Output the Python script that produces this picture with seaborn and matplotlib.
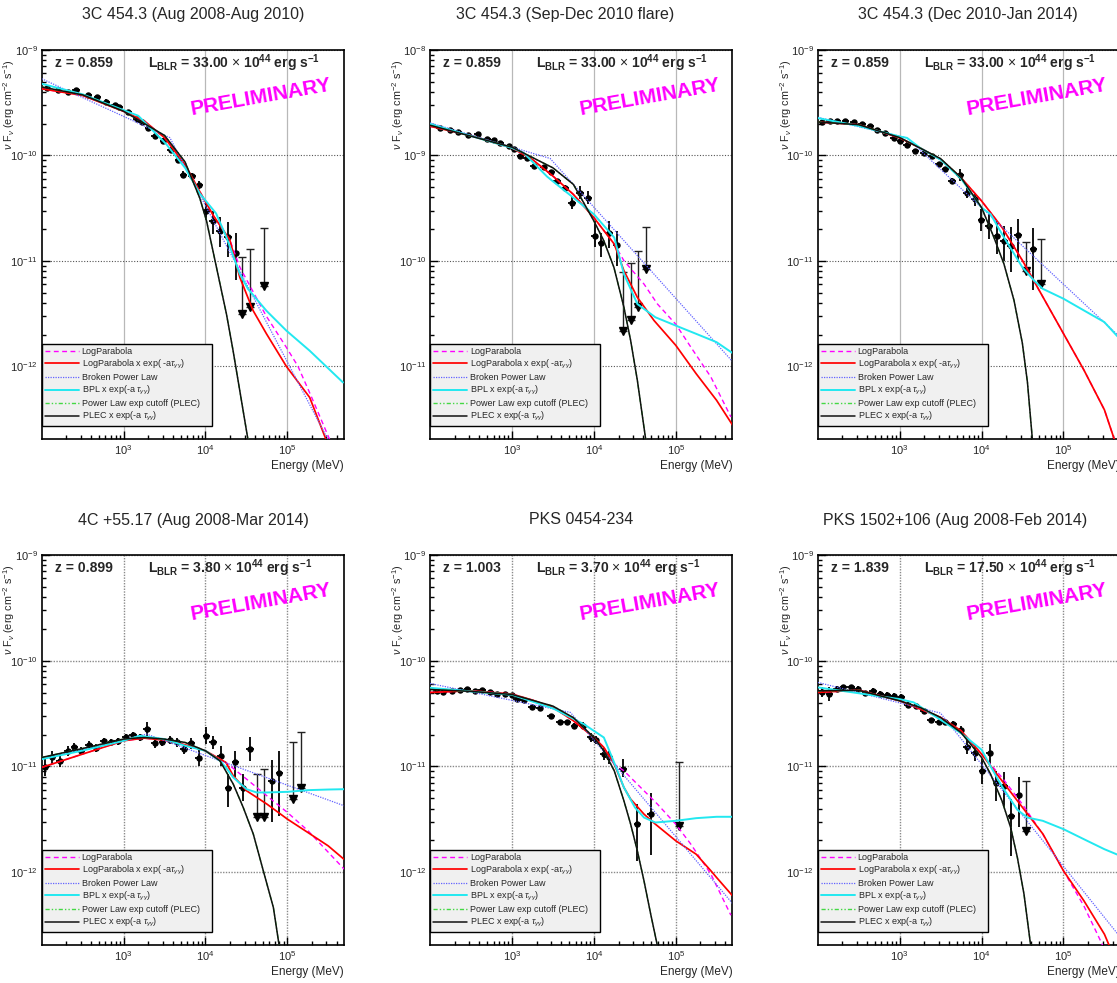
import numpy as np
import pandas as pd
import seaborn as sns
import matplotlib.pyplot as plt
from matplotlib.ticker import LogLocator, LogFormatterSciNotation, NullFormatter

sns.set_theme(style="white")
plt.rcParams["font.family"] = ["Liberation Sans", "DejaVu Sans"]
plt.rcParams["mathtext.fontset"] = "custom"
plt.rcParams["mathtext.rm"] = "Liberation Sans"
plt.rcParams["mathtext.it"] = "Liberation Sans:italic"
plt.rcParams["mathtext.bf"] = "Liberation Sans:bold"

# ---- panel meta ----
titles = ["3C 454.3 (Aug 2008-Aug 2010)", "3C 454.3 (Sep-Dec 2010 flare)", "3C 454.3 (Dec 2010-Jan 2014)",
          "4C +55.17 (Aug 2008-Mar 2014)", "PKS 0454-234", "PKS 1502+106 (Aug 2008-Feb 2014)"]
redshifts = ["0.859", "0.859", "0.859", "0.899", "1.003", "1.839"]
l_blr = ["33.00", "33.00", "33.00", "3.80", "3.70", "17.50"]
y_min = [2.05e-13, 2.05e-12, 2.05e-13, 2.05e-13, 2.05e-13, 2.05e-13]
y_max = [1e-9, 1e-8, 1e-9, 1e-9, 1e-9, 1e-9]
e_min, e_max = 100, 4.9e5
e_ticks = [1e3, 1e4, 1e5]

# all values below: log10(E / MeV), log10(nuFnu / erg cm-2 s-1)
# points: (logE, logF, err_down, err_up) in dex ; upper limits: (logE, log top of bar, log arrow value)

# ---- 3C 454.3 (Aug 2008-Aug 2010) ----
p1_pts = [(2.061, -9.361, .02, .02), (2.203, -9.377, .02, .02), (2.325, -9.399, .02, .02),
          (2.419, -9.383, .02, .02), (2.569, -9.425, .02, .02), (2.679, -9.447, .02, .02),
          (2.785, -9.489, .02, .02), (2.894, -9.521, .02, .02), (2.947, -9.543, .02, .02),
          (3.057, -9.591, .02, .02), (3.159, -9.655, .02, .02), (3.220, -9.687, .02, .02),
          (3.301, -9.741, .02, .02), (3.382, -9.815, .025, .025), (3.484, -9.863, .025, .025),
          (3.573, -9.949, .03, .03), (3.667, -10.038, .03, .03), (3.728, -10.182, .035, .035),
          (3.837, -10.198, .035, .035), (3.923, -10.278, .04, .04), (4.012, -10.522, .09, .08),
          (4.093, -10.623, .12, .10), (4.175, -10.712, .16, .13), (4.276, -10.775, .19, .14),
          (4.370, -10.927, .25, .19)]
p1_uls = [(4.451, -10.965, -11.503), (4.541, -10.886, -11.434), (4.715, -10.687, -11.234)]
p1_lpt = [(2.0, -9.367), (2.5, -9.431), (3.0, -9.581), (3.25, -9.671), (3.5, -9.831), (3.75, -10.086),
          (3.93, -10.342), (4.093, -10.566), (4.297, -10.80), (4.419, -11.155), (4.581, -11.47),
          (4.744, -11.69), (4.988, -12.0), (5.272, -12.294), (5.475, -12.70)]
p1_lp = p1_lpt[:9] + [(4.42, -11.06), (4.58, -11.29), (4.74, -11.52), (4.988, -11.82), (5.13, -12.0),
                      (5.30, -12.3), (5.52, -12.70)]
p1_bpl = [(2.0, -9.272), (3.565, -9.831), (5.50, -12.70)]
p1_bplt = [(2.0, -9.32), (2.5, -9.42), (3.0, -9.57), (3.179, -9.623), (3.362, -9.767), (3.524, -9.895),
           (3.752, -10.118), (3.93, -10.36), (4.13, -10.55), (4.256, -10.775), (4.419, -11.123),
           (4.52, -11.266), (4.744, -11.472), (4.988, -11.661), (5.272, -11.851), (5.679, -12.152)]
p1_plect = [(2.0, -9.35), (2.5, -9.425), (3.0, -9.58), (3.5, -9.81), (3.75, -10.06), (3.931, -10.406),
            (4.012, -10.617), (4.134, -11.06), (4.256, -11.503), (4.337, -11.851), (4.419, -12.231),
            (4.52, -12.70)]
p1_plec = p1_plect  # hidden under the absorbed curve

# ---- 3C 454.3 (Sep-Dec 2010 flare) ----
p2_pts = [(2.122, -8.739, .015, .015), (2.245, -8.754, .015, .015), (2.347, -8.776, .015, .015),
          (2.469, -8.802, .015, .015), (2.580, -8.795, .015, .015), (2.694, -8.839, .015, .015),
          (2.776, -8.855, .015, .015), (2.857, -8.880, .015, .015), (2.959, -8.912, .015, .015),
          (3.029, -8.943, .015, .015), (3.102, -9.006, .015, .015), (3.184, -9.022, .015, .015),
          (3.265, -9.101, .015, .015), (3.388, -9.110, .015, .015), (3.478, -9.154, .02, .02),
          (3.551, -9.243, .02, .02), (3.653, -9.306, .025, .025), (3.735, -9.447, .063, .063),
          (3.829, -9.353, .063, .063), (3.927, -9.400, .063, .063), (4.008, -9.762, .11, .142),
          (4.09, -9.825, .142, .094), (4.184, -9.731, .142, .11), (4.278, -9.847, .198, .132)]
p2_uls = [(4.359, -10.109, -10.66), (4.449, -10.024, -10.559), (4.539, -9.91, -10.439),
          (4.633, -9.677, -10.077)]
p2_lpt = [(2.0, -8.723), (2.5, -8.811), (3.0, -8.928), (3.25, -9.038), (3.5, -9.195), (3.75, -9.369),
          (4.0, -9.589), (4.25, -9.841), (4.367, -10.093), (4.531, -10.345), (4.735, -10.565),
          (5.0, -10.80), (5.249, -11.069), (5.498, -11.321), (5.694, -11.557)]
p2_lp = p2_lpt[:8] + [(4.367, -9.998), (4.612, -10.219), (4.776, -10.408), (5.0, -10.60), (5.184, -10.817),
                      (5.429, -11.101), (5.673, -11.479)]
p2_bpl = [(2.0, -8.691), (3.466, -9.028), (5.7, -10.96)]
p2_bplt = [(2.0, -8.701), (3.0, -8.928), (3.143, -8.975), (3.429, -9.20), (3.5, -9.245), (3.75, -9.40),
           (4.0, -9.557), (4.249, -9.778), (4.367, -10.124), (4.531, -10.408), (4.751, -10.534),
           (5.0, -10.613), (5.249, -10.691), (5.498, -10.77), (5.694, -10.874)]
p2_plect = [(2.0, -8.713), (3.0, -8.921), (3.5, -9.117), (3.75, -9.274), (4.0, -9.62), (4.122, -9.809),
            (4.245, -10.061), (4.367, -10.439), (4.449, -10.754), (4.531, -11.132), (4.633, -11.693)]
p2_plec = p2_plect

# ---- 3C 454.3 (Dec 2010-Jan 2014) ----
p3_pts = [(2.049, -9.686, .02, .02), (2.151, -9.676, .02, .02), (2.233, -9.670, .02, .02),
          (2.335, -9.670, .02, .02), (2.437, -9.686, .02, .02), (2.539, -9.701, .02, .02),
          (2.641, -9.723, .02, .02), (2.722, -9.755, .02, .02), (2.824, -9.786, .02, .02),
          (2.927, -9.833, .02, .02), (3.008, -9.858, .02, .02), (3.090, -9.896, .02, .02),
          (3.192, -9.959, .02, .02), (3.294, -9.975, .02, .02), (3.396, -10.006, .02, .02),
          (3.478, -10.079, .02, .02), (3.559, -10.132, .025, .025), (3.641, -10.242, .03, .03),
          (3.735, -10.186, .055, .055), (3.824, -10.352, .047, .047), (3.914, -10.415, .063, .063),
          (3.996, -10.61, .104, .10), (4.09, -10.667, .126, .11), (4.184, -10.761, .173, .142),
          (4.273, -10.808, .189, .142), (4.355, -10.855, .252, .173), (4.445, -10.752, .261, .148),
          (4.633, -10.887, .393, .204)]
p3_uls = [(4.539, -10.824, -11.091), (4.722, -10.792, -11.217)]
p3_lpt = [(2.0, -9.682), (2.5, -9.708), (3.0, -9.833), (3.25, -9.928), (3.5, -10.038), (3.75, -10.211),
          (4.0, -10.431), (4.25, -10.682), (4.5, -10.997), (4.75, -11.343), (5.0, -11.689),
          (5.25, -12.035), (5.5, -12.412), (5.62, -12.69)]
p3_lp = list(p3_lpt)  # indistinguishable from the absorbed curve here
p3_bpl = [(2.0, -9.638), (3.09, -9.833), (5.665, -11.704)]
p3_bplt = [(2.0, -9.645), (2.5, -9.72), (3.0, -9.82), (3.09, -9.833), (3.249, -9.928), (3.5, -10.04),
           (3.75, -10.22), (4.0, -10.494), (4.11, -10.557), (4.249, -10.745), (4.498, -11.06),
           (4.641, -11.186), (4.747, -11.264), (5.0, -11.358), (5.249, -11.469), (5.498, -11.579),
           (5.665, -11.72)]
p3_plect = [(2.0, -9.682), (2.5, -9.708), (3.0, -9.83), (3.5, -10.03), (3.75, -10.21), (4.0, -10.494),
            (4.151, -10.777), (4.273, -11.028), (4.396, -11.374), (4.498, -11.78), (4.56, -12.15),
            (4.62, -12.69)]
p3_plec = p3_plect

# ---- 4C +55.17 ----
p4_pts = [(2.045, -11.009, .079, .079), (2.127, -10.915, .06, .06), (2.224, -10.946, .063, .063),
          (2.318, -10.852, .045, .045), (2.4, -10.82, .04, .04), (2.482, -10.852, .04, .04),
          (2.576, -10.795, .035, .035), (2.665, -10.826, .035, .035), (2.755, -10.757, .03, .03),
          (2.849, -10.767, .03, .03), (2.931, -10.763, .03, .03), (3.024, -10.719, .03, .03),
          (3.114, -10.70, .03, .03), (3.196, -10.726, .035, .035), (3.286, -10.647, .063, .063),
          (3.38, -10.782, .04, .04), (3.473, -10.767, .04, .04), (3.563, -10.751, .04, .04),
          (3.653, -10.773, .045, .045), (3.739, -10.836, .05, .05), (3.829, -10.782, .05, .05),
          (3.918, -10.921, .079, .079), (4.012, -10.71, .079, .079), (4.094, -10.773, .063, .063),
          (4.184, -10.899, .095, .095), (4.278, -11.205, .183, .132), (4.363, -10.962, .142, .104),
          (4.453, -11.199, .126, .126), (4.543, -10.836, .11, .11), (4.808, -11.136, .385, .196),
          (4.902, -11.066, .401, .208)]
p4_uls = [(4.624, -11.073, -11.476), (4.718, -11.025, -11.476), (5.073, -10.773, -11.309),
          (5.167, -10.672, -11.205)]
p4_lpt = [(2.0, -11.009), (2.5, -10.883), (3.0, -10.757), (3.25, -10.732), (3.5, -10.751), (3.75, -10.795),
          (4.0, -10.852), (4.249, -10.962), (4.339, -11.088), (4.502, -11.23), (4.75, -11.356),
          (5.0, -11.498), (5.249, -11.624), (5.498, -11.751), (5.69, -11.877)]
p4_lp = p4_lpt[:8] + [(4.502, -11.12), (4.751, -11.278), (5.0, -11.435), (5.253, -11.609), (5.502, -11.814),
                      (5.694, -11.972)]
p4_bpl = [(2.0, -10.931), (3.282, -10.694), (5.694, -11.372)]
p4_bplt = [(2.0, -10.931), (2.5, -10.85), (3.0, -10.757), (3.196, -10.71), (3.498, -10.741), (3.751, -10.804),
           (4.0, -10.852), (4.176, -10.946), (4.249, -11.009), (4.339, -11.104), (4.502, -11.215),
           (4.624, -11.246), (4.751, -11.246), (5.0, -11.24), (5.253, -11.224), (5.502, -11.218),
           (5.694, -11.215)]
p4_plect = [(2.0, -10.915), (2.5, -10.83), (3.0, -10.741), (3.249, -10.726), (3.498, -10.741),
            (3.751, -10.773), (4.0, -10.852), (4.176, -10.946), (4.339, -11.167), (4.461, -11.388),
            (4.584, -11.64), (4.706, -11.987), (4.829, -12.334), (4.90, -12.697)]
p4_plec = p4_plect

# ---- PKS 0454-234 ----
p5_pts = [(2.082, -10.284, .02, .02), (2.163, -10.300, .02, .02), (2.265, -10.284, .02, .02),
          (2.367, -10.278, .02, .02), (2.457, -10.268, .02, .02), (2.551, -10.284, .02, .02),
          (2.633, -10.278, .02, .02), (2.735, -10.300, .02, .02), (2.816, -10.315, .02, .02),
          (2.918, -10.315, .02, .02), (3.0, -10.325, .02, .02), (3.061, -10.363, .02, .02),
          (3.143, -10.372, .02, .02), (3.245, -10.442, .02, .02), (3.339, -10.451, .02, .02),
          (3.478, -10.527, .025, .025), (3.584, -10.584, .025, .025), (3.673, -10.584, .025, .025),
          (3.763, -10.615, .03, .03), (3.869, -10.615, .032, .032), (3.959, -10.726, .04, .04),
          (4.02, -10.751, .04, .04), (4.122, -10.883, .055, .055), (4.184, -10.915, .06, .06),
          (4.355, -11.025, .079, .095), (4.531, -11.546, .347, .189), (4.694, -11.451, .385, .199)]
p5_uls = [(5.041, -10.962, -11.562)]
p5_lpt = [(2.0, -10.3), (2.5, -10.284), (3.0, -10.315), (3.249, -10.372), (3.502, -10.442), (3.751, -10.568),
          (4.0, -10.726), (4.122, -10.82), (4.249, -10.978), (4.367, -11.199), (4.449, -11.309),
          (4.612, -11.451), (4.751, -11.546), (5.0, -11.703), (5.249, -11.83), (5.429, -11.987),
          (5.498, -12.05), (5.694, -12.224)]
p5_lp = p5_lpt[:9] + [(4.367, -11.041), (4.612, -11.23), (4.776, -11.356), (5.0, -11.546), (5.184, -11.735),
                      (5.429, -12.019), (5.673, -12.407)]
p5_bpl = [(2.0, -10.215), (3.714, -10.489), (5.694, -12.297)]
p5_bplt = [(2.0, -10.256), (2.5, -10.29), (3.0, -10.322), (3.5, -10.45), (3.878, -10.60), (4.122, -10.726),
           (4.249, -10.965), (4.367, -11.199), (4.502, -11.388), (4.612, -11.483), (4.751, -11.53),
           (5.0, -11.514), (5.249, -11.489), (5.498, -11.476), (5.694, -11.476)]
p5_plect = [(2.0, -10.272), (2.5, -10.29), (3.0, -10.319), (3.5, -10.429), (3.751, -10.539), (4.0, -10.726),
            (4.122, -10.852), (4.249, -11.041), (4.367, -11.325), (4.449, -11.546), (4.531, -11.798),
            (4.612, -12.082), (4.694, -12.397), (4.776, -12.697)]
p5_plec = p5_plect

# ---- PKS 1502+106 ----
p6_pts = [(2.049, -10.300, .047, .047), (2.143, -10.315, .063, .063), (2.233, -10.268, .025, .025),
          (2.314, -10.252, .025, .025), (2.404, -10.252, .025, .025), (2.486, -10.268, .025, .025),
          (2.580, -10.309, .025, .025), (2.673, -10.284, .025, .025), (2.763, -10.315, .025, .025),
          (2.845, -10.322, .025, .025), (2.927, -10.331, .025, .025), (3.016, -10.341, .025, .025),
          (3.098, -10.416, .025, .025), (3.204, -10.426, .025, .025), (3.294, -10.479, .025, .025),
          (3.384, -10.562, .025, .025), (3.478, -10.584, .025, .025), (3.559, -10.584, .025, .025),
          (3.653, -10.599, .03, .03), (3.743, -10.656, .035, .035), (3.824, -10.814, .069, .063),
          (3.914, -10.868, .079, .079), (4.008, -11.047, .12, .117), (4.098, -10.871, .107, .082),
          (4.18, -11.161, .164, .12), (4.273, -11.186, .202, .129), (4.363, -11.467, .379, .158),
          (4.453, -11.268, .309, .164)]
p6_uls = [(4.543, -11.136, -11.609)]
p6_lpt = [(2.0, -10.3), (2.5, -10.278), (3.0, -10.379), (3.25, -10.457), (3.5, -10.536), (3.75, -10.662),
          (4.0, -10.883), (4.25, -11.136), (4.5, -11.388), (4.75, -11.64), (5.0, -11.987), (5.25, -12.271),
          (5.5, -12.587), (5.56, -12.697)]
p6_lp = p6_lpt[:7] + [(4.249, -11.104), (4.498, -11.357), (4.747, -11.64), (5.0, -11.987), (5.249, -12.319),
                      (5.482, -12.697)]
p6_bpl = [(2.0, -10.205), (3.498, -10.495), (5.665, -12.587)]
p6_bplt = [(2.0, -10.252), (3.0, -10.363), (3.171, -10.394), (3.498, -10.558), (3.747, -10.684),
           (4.0, -10.842), (4.11, -10.999), (4.249, -11.189), (4.437, -11.41), (4.559, -11.483),
           (4.747, -11.514), (5.0, -11.593), (5.249, -11.688), (5.498, -11.782), (5.665, -11.836)]
p6_plect = [(2.0, -10.284), (2.5, -10.28), (3.0, -10.379), (3.249, -10.442), (3.498, -10.536),
            (3.747, -10.678), (4.0, -10.915), (4.11, -11.073), (4.249, -11.325), (4.355, -11.577),
            (4.437, -11.861), (4.518, -12.208), (4.60, -12.697)]
p6_plec = p6_plect

panels = [
    (p1_pts, p1_uls, [p1_lp, p1_lpt, p1_bpl, p1_bplt, p1_plec, p1_plect]),
    (p2_pts, p2_uls, [p2_lp, p2_lpt, p2_bpl, p2_bplt, p2_plec, p2_plect]),
    (p3_pts, p3_uls, [p3_lp, p3_lpt, p3_bpl, p3_bplt, p3_plec, p3_plect]),
    (p4_pts, p4_uls, [p4_lp, p4_lpt, p4_bpl, p4_bplt, p4_plec, p4_plect]),
    (p5_pts, p5_uls, [p5_lp, p5_lpt, p5_bpl, p5_bplt, p5_plec, p5_plect]),
    (p6_pts, p6_uls, [p6_lp, p6_lpt, p6_bpl, p6_bplt, p6_plec, p6_plect]),
]

# model styles (label, color, linestyle, linewidth)
model_styles = [
    ("LogParabola", "#ff00ff", (0, (3.5, 2.5)), 1.0),
    (r"LogParabola x exp( -a$\tau_{\gamma\gamma}$)", "#ff0000", "-", 1.25),
    ("Broken Power Law", "#6262ff", (0, (1, 1)), 0.9),
    (r"BPL x exp(-a $\tau_{\gamma\gamma}$)", "#22e8f0", "-", 1.4),
    ("Power Law exp cutoff (PLEC)", "#44d844", (0, (3, 1.5, 1, 1.5, 1, 1.5)), 1.0),
    (r"PLEC x exp(-a $\tau_{\gamma\gamma}$)", "#111111", "-", 1.1),
]

BIN_DEX = 0.045  # half width of the energy bins

# layout (figure fractions) of the six frames
W, H_TOP, H_BOT = 0.2706, 0.3957, 0.3967
lefts = [0.0373, 0.385, 0.7321]
bottoms = [0.5534, 0.0387]
title_x = [193, 565, 968, 193, 581, 955]
title_y = [15, 15, 15, 520, 520, 520]

fig = plt.figure(figsize=(11.17, 9.83), dpi=100)

for i, (pts, uls, curves) in enumerate(panels):
    row, col = divmod(i, 3)
    ax = fig.add_axes([lefts[col], bottoms[row], W, H_TOP if row == 0 else H_BOT])
    ax.set_xscale("log")
    ax.set_yscale("log")
    ax.set_xlim(e_min, e_max)
    ax.set_ylim(y_min[i], y_max[i])

    # data points
    d = pd.DataFrame(pts, columns=["logE", "logF", "lo", "hi"])
    E, F = 10 ** d.logE, 10 ** d.logF
    ax.errorbar(E, F,
                xerr=[E - 10 ** (d.logE - BIN_DEX), 10 ** (d.logE + BIN_DEX) - E],
                yerr=[F - 10 ** (d.logF - d.lo), 10 ** (d.logF + d.hi) - F],
                fmt="o", ms=3.6, color="black", ecolor="black", elinewidth=1.3, capsize=0, zorder=3)
    # upper limits
    u = pd.DataFrame(uls, columns=["logE", "top", "tip"])
    Eu, tip, top = 10 ** u.logE, 10 ** u.tip, 10 ** u.top
    ax.errorbar(Eu, tip, yerr=[np.zeros(len(u)), top - tip], fmt="none", ecolor="#222222",
                elinewidth=1.0, capsize=3, capthick=1.0, zorder=3)
    ax.plot(Eu, tip, "v", color="black", ms=6, zorder=3)

    # model curves
    handles = []
    for curve, (label, color, ls, lw) in zip(curves, model_styles):
        c = pd.DataFrame(curve, columns=["logE", "logF"])
        sns.lineplot(x=10 ** c.logE, y=10 ** c.logF, ax=ax, color=color, linestyle=ls, linewidth=lw,
                     label=label, estimator=None, sort=False, legend=False, zorder=4)
        handles.append(ax.lines[-1])

    # ROOT-like frame, ticks and grid
    for sp in ax.spines.values():
        sp.set_color("black")
        sp.set_linewidth(1.2)
    ax.set_xticks(e_ticks)
    ax.xaxis.set_major_formatter(LogFormatterSciNotation())
    ax.xaxis.set_minor_locator(LogLocator(base=10, subs=np.arange(2, 10), numticks=20))
    ax.xaxis.set_minor_formatter(NullFormatter())
    decades = np.arange(np.ceil(np.log10(y_min[i])), np.floor(np.log10(y_max[i])) + 1)
    ax.set_yticks(10.0 ** decades)
    ax.yaxis.set_major_formatter(LogFormatterSciNotation())
    ax.yaxis.set_minor_locator(LogLocator(base=10, subs=np.arange(2, 10), numticks=20))
    ax.yaxis.set_minor_formatter(NullFormatter())
    ax.set_ylim(y_min[i], y_max[i])
    ax.tick_params(which="both", direction="in", bottom=True, left=True, top=False, right=False,
                   color="black", width=1.0, labelsize=8, pad=3)
    ax.tick_params(which="major", length=6)
    ax.tick_params(which="minor", length=3)
    ax.set_axisbelow(True)
    if row == 0:
        ax.grid(True, axis="x", which="major", color="#b8b8b8", linestyle="-", linewidth=0.9)
        ax.grid(True, axis="y", which="major", color="#555555", linestyle=(0, (1, 1.5)), linewidth=0.8)
    else:
        ax.grid(True, axis="both", which="major", color="#8a8a8a", linestyle=(0, (1, 1)), linewidth=1.0)

    ax.set_xlabel("Energy (MeV)", fontsize=8.5, loc="right")
    ax.xaxis.set_label_coords(1.0, -0.055)
    ax.set_ylabel(r"$\nu$ F$_{\nu}$ (erg cm$^{-2}$ s$^{-1}$)", fontsize=7.8, loc="top")
    ax.yaxis.set_label_coords(-0.08, 0.977)

    # annotations
    ax.text(0.043, 0.966, f"z = {redshifts[i]}", transform=ax.transAxes, fontsize=10,
            fontweight="bold", ha="left", va="center")
    ax.text(0.351, 0.966,
            r"L$_{\mathbf{BLR}}$ = " + l_blr[i] + r" $\times$ 10$^{\mathbf{44}}$ erg s$^{\mathbf{-1}}$",
            transform=ax.transAxes, fontsize=10, fontweight="bold", ha="left", va="center")
    ax.text(0.726, 0.88, "PRELIMINARY", transform=ax.transAxes, fontsize=15, fontweight="bold",
            color="#ff00ff", rotation=10, ha="center", va="center")

    leg = ax.legend(handles, [s[0] for s in model_styles], loc="lower left",
                    bbox_to_anchor=(0.0, 0.033, 0.563, 0.216), mode="expand", borderaxespad=0,
                    fontsize=6.5, frameon=True, fancybox=False, edgecolor="black", facecolor="#f0f0f0",
                    framealpha=1, handlelength=3.8, handletextpad=0.3, borderpad=0.32, labelspacing=0.22)
    leg.get_frame().set_linewidth(1.0)
    leg.set_zorder(10)

    fig.text(title_x[i] / 1117, 1 - title_y[i] / 983, titles[i], ha="center", va="center", fontsize=11.5)

fig.savefig("out.png", dpi=100)
